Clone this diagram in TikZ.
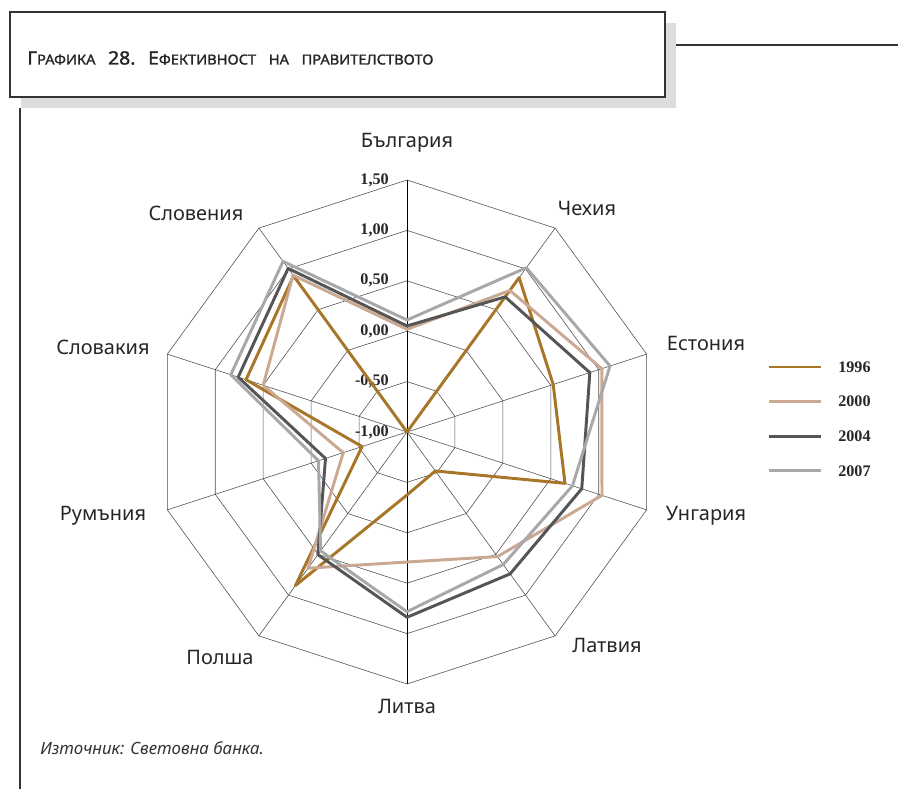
\documentclass[tikz,border=0pt]{standalone}
\usepackage{fontspec}
\setmainfont{Noto Sans}[Language=Bulgarian]
\newfontfamily\numfont{Liberation Serif}
\newfontfamily\titlefont{Noto Sans}[FakeStretch=1.06, FakeBold=1.6]
\usepackage{xcolor}
\definecolor{c1996}{RGB}{168,118,40}
\definecolor{c2000}{RGB}{202,168,146}
\definecolor{c2004}{RGB}{85,85,85}
\definecolor{c2007}{RGB}{168,168,170}
\definecolor{shadowgray}{RGB}{221,221,223}
\newcommand{\radunit}{2.52}

\begin{document}
\begin{tikzpicture}[
    grid/.style={draw=black!70, line width=0.4pt},
    frame/.style={draw=black!80, line width=1.4pt},
    country/.style={font=\fontsize{14.2}{16}\selectfont, text=black!85},
    tick/.style={font=\numfont\bfseries\fontsize{11.5}{13}\selectfont, text=black!85, inner sep=0pt},
    s1996/.style={draw=c1996, line width=2.1pt, line join=round},
    s2000/.style={draw=c2000, line width=2.1pt, line join=round},
    s2004/.style={draw=c2004, line width=2.1pt, line join=round},
    s2007/.style={draw=c2007, line width=2.1pt, line join=round}
]
    \useasboundingbox (-10.175,-8.925) rectangle (12.275,10.8);

    % Frame
    \fill[shadowgray] (-9.65,8.1) rectangle (6.725,10.225);
    \draw[frame, fill=white] (-9.925,8.375) rectangle (6.45,10.5);
    \draw[frame] (6.725,9.675) -- (12.275,9.675);
    \draw[black!80, line width=1.8pt] (-9.675,8.1) -- (-9.675,-8.925);
    \node[anchor=west, text=black!85, inner sep=0pt] (title) at (-9.5,9.35)
        {\titlefont{\fontsize{13}{15}\selectfont Г}{\fontsize{9.8}{12}\selectfont РАФИКА}\hspace{9pt}%
         {\fontsize{13}{15}\selectfont 28.}\hspace{9pt}{\fontsize{13}{15}\selectfont Е}%
         {\fontsize{9.8}{12}\selectfont ФЕКТИВНОСТ\hspace{9pt}НА\hspace{9pt}ПРАВИТЕЛСТВОТО}};

    % Grid
    \coordinate (o) at (0,0);
    \foreach \k in {1,...,5}
        \draw[grid] (90:\k*1.26) \foreach \a in {1,...,9} { -- ({90-36*\a}:\k*1.26) } -- cycle;
    \foreach \a in {1,2,3,4,6,7,8,9}
        \draw[grid] (o) -- ({90-36*\a}:6.3);
    \draw[black, line width=0.7pt] (0,-6.3) -- (0,6.3);

    % Tick labels
    \foreach \k/\t in {0/{-1,00},1/{-0,50},2/{0,00},3/{0,50},4/{1,00},5/{1,50}}
        \node[tick, anchor=east] (t\k) at (-0.45,\k*1.26) {\t};

    % Series
    \foreach \yr/\vals in {
        1996/{-1.00,0.893,0.525,0.648,-0.522,-0.375,0.883,-0.532,0.679,0.915},
        2000/{0.019,0.736,1.032,1.034,0.528,0.29,0.67,-0.335,0.50,0.923},
        2004/{0.052,0.657,0.907,0.823,0.74,0.838,0.504,-0.15,0.761,1.006},
        2007/{0.111,1.014,1.118,0.726,0.625,0.783,0.458,-0.077,0.838,1.092}} {
        \foreach \v [count=\k from 0] in \vals
            \coordinate (p\yr-\k) at ({90-36*\k}:{(\v+1)*\radunit});
        \draw[s\yr] (p\yr-0) \foreach \k in {1,...,9} { -- (p\yr-\k) } -- cycle;
    }

    % Countries
    \node[country] (bg) at (0,7.225) {България};
    \node[country] (cz) at (4.5,5.6) {Чехия};
    \node[country] (ee) at (7.475,2.225) {Естония};
    \node[country] (hu) at (7.475,-2.1) {Унгария};
    \node[country] (lv) at (5.0,-5.325) {Латвия};
    \node[country] (lt) at (0,-6.85) {Литва};
    \node[country] (pl) at (-4.675,-5.625) {Полша};
    \node[country] (ro) at (-7.6,-2.1) {Румъния};
    \node[country] (sk) at (-7.6,2.125) {Словакия};
    \node[country] (si) at (-5.275,5.475) {Словения};

    % Legend
    \foreach \yr [count=\i from 0] in {1996,2000,2004,2007} {
        \coordinate (l\yr) at (9.05,1.625-0.865*\i);
        \draw[s\yr] (l\yr) -- ++(1.3,0);
        \node[tick, anchor=west] (n\yr) at (10.775,1.625-0.865*\i) {\yr};
    }

    % Source
    \node[anchor=west, text=black!80, inner sep=0pt, font=\itshape\fontsize{12}{14}\selectfont] (src) at (-9.175,-7.9)
        {Източник: Световна банка.};
\end{tikzpicture}
\end{document}
